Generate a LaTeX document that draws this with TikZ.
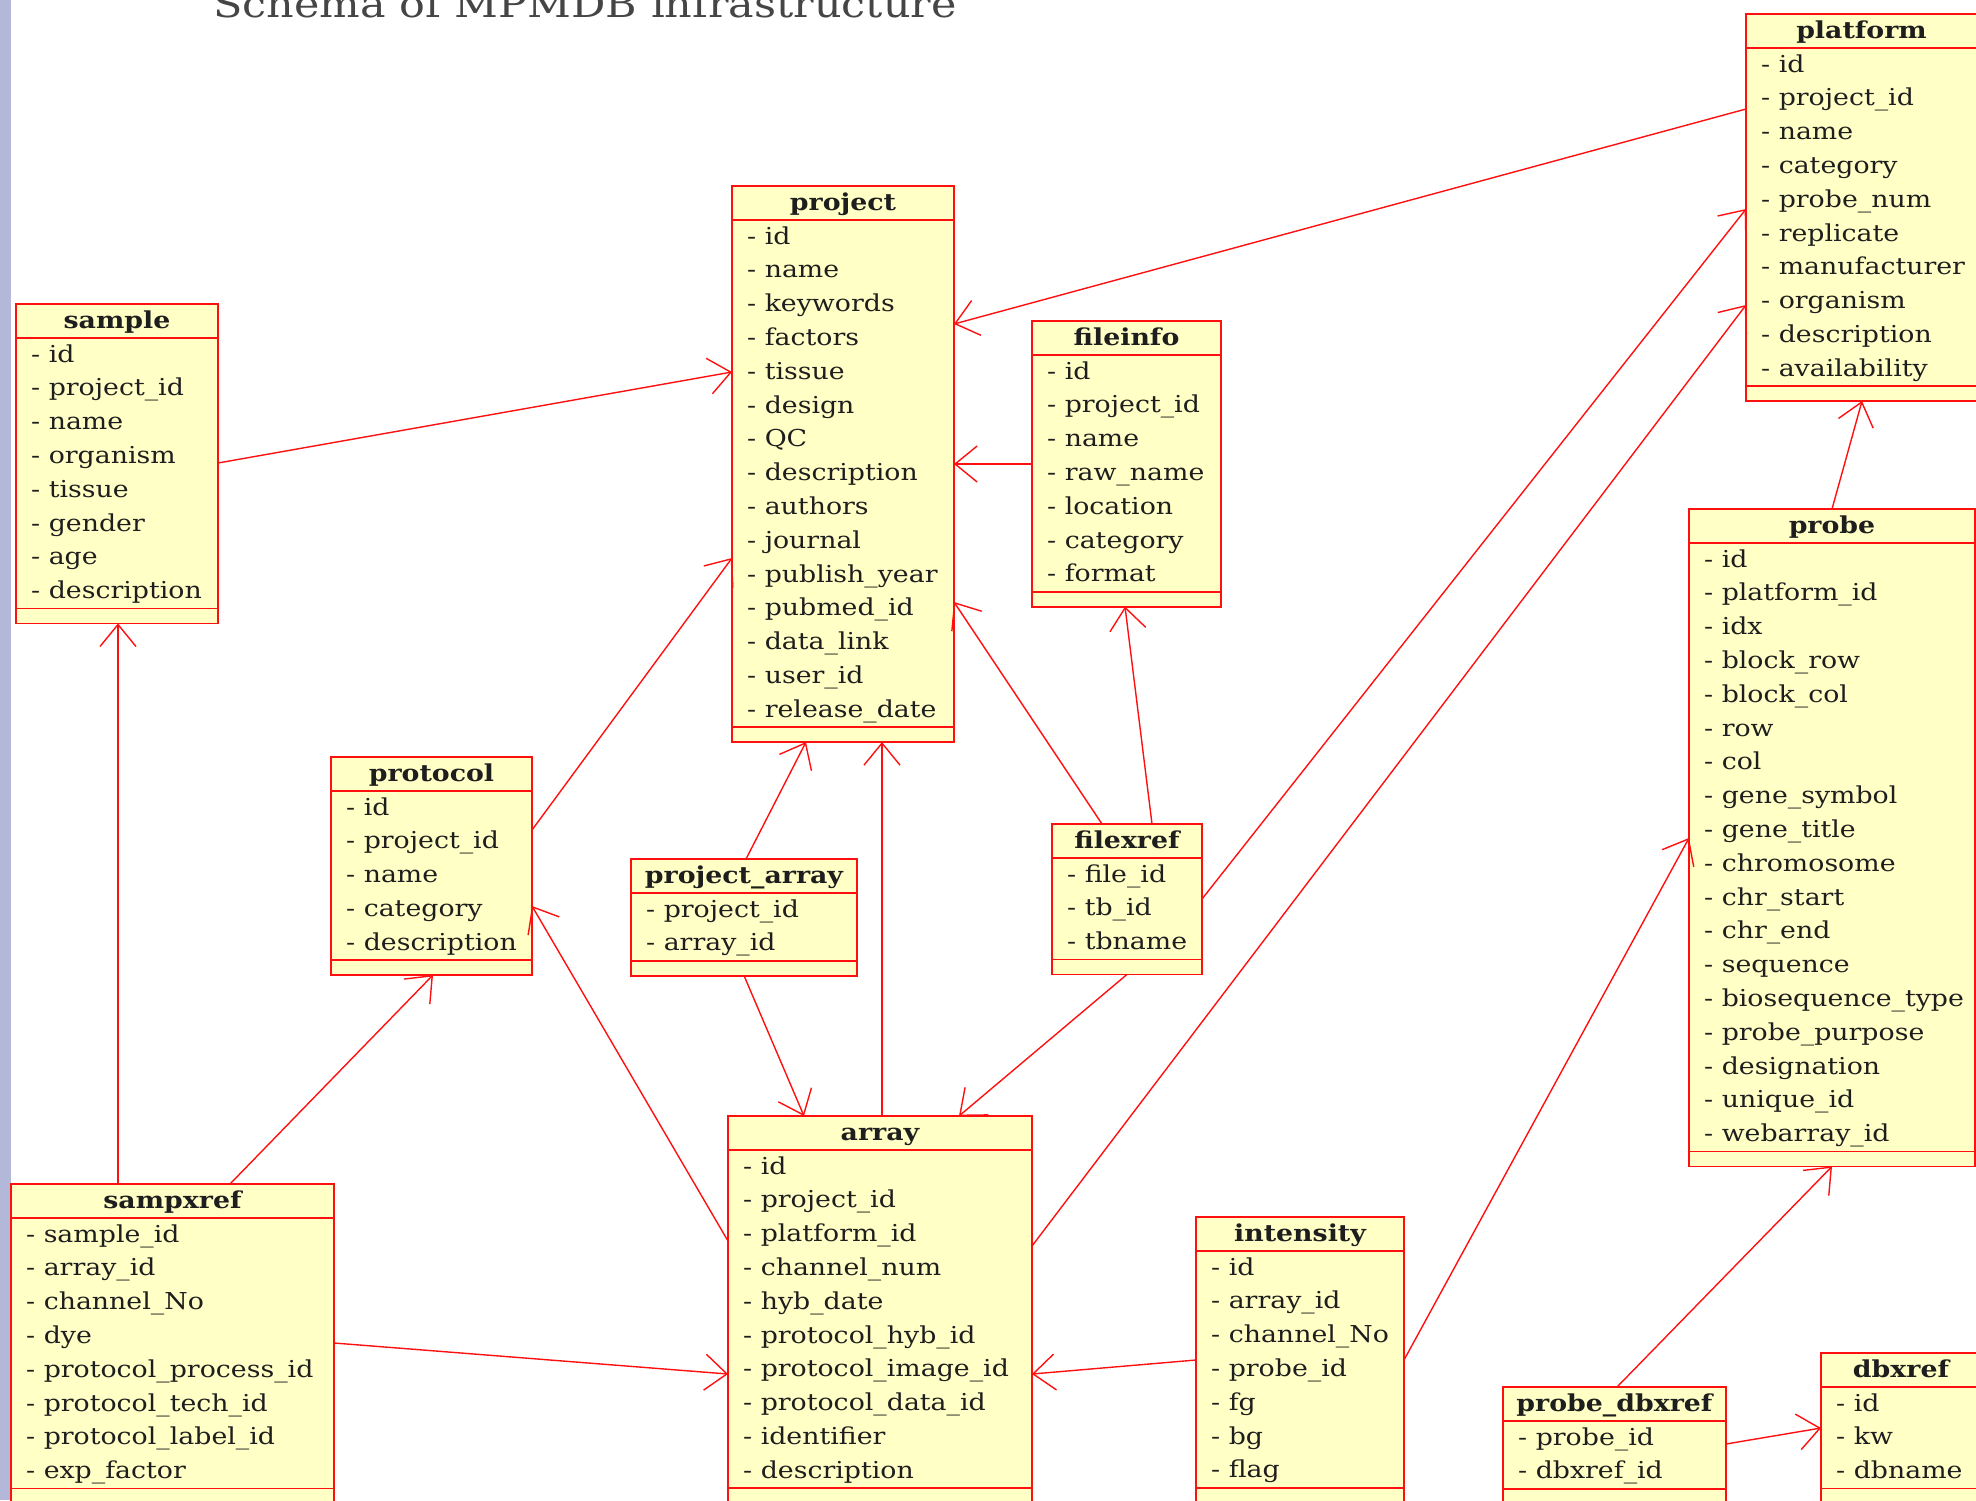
\documentclass[tikz,border=0pt]{standalone}
\usepackage{fontspec}
\setmainfont{DejaVu Serif}[FakeStretch=1.15]
\usetikzlibrary{calc,arrows.meta}
\definecolor{boxfill}{HTML}{FFFFC6}
\definecolor{boxred}{HTML}{FF1010}
\definecolor{txt}{HTML}{1E1E1E}
\definecolor{titlegray}{HTML}{454545}
\definecolor{strip}{HTML}{B3B8D8}
\tikzset{
  classbox/.style={draw=boxred, fill=boxfill, line width=1.8pt, rectangle, inner sep=0pt, outer sep=0pt},
  classline/.style={draw=boxred, line width=1.8pt},
  headtext/.style={inner sep=0pt, text=txt, font=\fontsize{23.3}{28}\selectfont\bfseries},
  rowtext/.style={inner sep=0pt, text=txt, font=\fontsize{23.3}{28}\selectfont},
  fk/.style={draw=boxred, line width=1.4pt, -{Straight Barb[length=22pt,width=36pt,line width=1.4pt]}},
}
% #1 name, #2 left, #3 top, #4 width, #5 rows, #6 title, #7 rows list
\newcommand\umlclass[7]{%
  \pgfmathsetmacro\boxh{49+#5*33.8}%
  \node[classbox, minimum width=#4pt, minimum height=\boxh pt, anchor=north west] (#1) at (#2,#3) {};
  \draw[classline] ($(#1.north west)+(0,34)$) -- ($(#1.north east)+(0,34)$);
  \draw[classline] ($(#1.south west)+(0,-15)$) -- ($(#1.south east)+(0,-15)$);
  \node[headtext, anchor=base] (#1-title) at ($(#1.north)+(0,24)$) {#6};
  \foreach \rowname [count=\k, evaluate=\k as \yy using 58+(\k-1)*33.8] in {#7} {
    \node[rowtext, anchor=base west] (#1-\k) at ($(#1.north west)+(15,\yy)$) {- \rowname};
  }
}
\begin{document}
\begin{tikzpicture}[x=1pt,y=-1pt]
\useasboundingbox (0,0) rectangle (1976,1500);
\clip (0,0) rectangle (1976,1500);
\fill[white] (0,0) rectangle (1976,1500);
\fill[strip] (0,0) rectangle (11,1500);
\node[anchor=base west, inner sep=0pt, text=titlegray, font=\fontsize{37.3}{44}\selectfont] (title) at (213,17) {Schema of MPMDB infrastructure};

\umlclass{sample}{16}{304}{202}{8}{sample}{id,project\_id,name,organism,tissue,gender,age,description}
\umlclass{project}{732}{186}{222}{15}{project}{id,name,keywords,factors,tissue,design,QC,description,authors,journal,publish\_year,pubmed\_id,data\_link,user\_id,release\_date}
\umlclass{fileinfo}{1032}{321}{189}{7}{fileinfo}{id,project\_id,name,raw\_name,location,category,format}
\umlclass{platform}{1746}{14}{231}{10}{platform}{id,project\_id,name,category,probe\_num,replicate,manufacturer,organism,description,availability}
\umlclass{probe}{1689}{509}{286}{18}{probe}{id,platform\_id,idx,block\_row,block\_col,row,col,gene\_symbol,gene\_title,chromosome,chr\_start,chr\_end,sequence,biosequence\_type,probe\_purpose,designation,unique\_id,webarray\_id}
\umlclass{protocol}{331}{757}{201}{5}{protocol}{id,project\_id,name,category,description}
\umlclass{projarr}{631}{859}{226}{2}{project\_array}{project\_id,array\_id}
\umlclass{filexref}{1052}{824}{150}{3}{filexref}{file\_id,tb\_id,tbname}
\umlclass{array}{728}{1116}{304}{10}{array}{id,project\_id,platform\_id,channel\_num,hyb\_date,protocol\_hyb\_id,protocol\_image\_id,protocol\_data\_id,identifier,description}
\umlclass{sampxref}{11}{1184}{323}{8}{sampxref}{sample\_id,array\_id,channel\_No,dye,protocol\_process\_id,protocol\_tech\_id,protocol\_label\_id,exp\_factor}
\umlclass{intensity}{1196}{1217}{208}{7}{intensity}{id,array\_id,channel\_No,probe\_id,fg,bg,flag}
\umlclass{probedbx}{1503}{1387}{223}{2}{probe\_dbxref}{probe\_id,dbxref\_id}
\umlclass{dbxref}{1821}{1353}{160}{3}{dbxref}{id,kw,dbname}

% connectors
\draw[fk] ($(platform.north west)+(0,95)$) -- ($(project.north east)+(0,138)$);
\draw[fk] ($(sample.north east)+(0,159)$) -- ($(project.north west)+(0,186)$);
\draw[fk] ($(fileinfo.north west)+(0,143)$) -- ($(project.north east)+(0,278)$);
\draw[fk] ($(protocol.north east)+(0,73)$) -- ($(project.north west)+(0,372)$);
\draw[fk] ($(filexref.north west)+(50,0)$) -- ($(project.north east)+(0,416)$);
\draw[fk] ($(filexref.north west)+(100,0)$) -- ($(fileinfo.south west)+(93,0)$);
\draw[fk] ($(filexref.north east)+(0,75)$) -- ($(platform.north west)+(0,195)$);
\draw[fk] ($(array.north east)+(0,130)$) -- ($(platform.north west)+(0,291)$);
\draw[fk] ($(probe.north west)+(143,0)$) -- ($(platform.south west)+(116,0)$);
\draw[fk] ($(projarr.north west)+(115,0)$) -- ($(project.south west)+(74,0)$);
\draw[fk] ($(array.north west)+(154,0)$) -- ($(project.south west)+(150,0)$);
\draw[fk] ($(projarr.south west)+(113,0)$) -- ($(array.north west)+(76,0)$);
\draw[fk] ($(filexref.south west)+(75,0)$) -- ($(array.north west)+(231,0)$);
\draw[fk] ($(sampxref.north west)+(107,0)$) -- ($(sample.south west)+(102,0)$);
\draw[fk] ($(sampxref.north west)+(219,0)$) -- ($(protocol.south west)+(102,0)$);
\draw[fk] ($(array.north west)+(0,125)$) -- ($(protocol.north east)+(0,149)$);
\draw[fk] ($(sampxref.north east)+(0,159)$) -- ($(array.north west)+(0,258)$);
\draw[fk] ($(intensity.north west)+(0,143)$) -- ($(array.north east)+(0,258)$);
\draw[fk] ($(intensity.north east)+(0,143)$) -- ($(probe.north west)+(0,329)$);
\draw[fk] ($(probedbx.north west)+(114,0)$) -- ($(probe.south west)+(143,0)$);
\draw[fk] ($(probedbx.north east)+(0,57)$) -- ($(dbxref.north west)+(0,75)$);
\end{tikzpicture}
\end{document}
